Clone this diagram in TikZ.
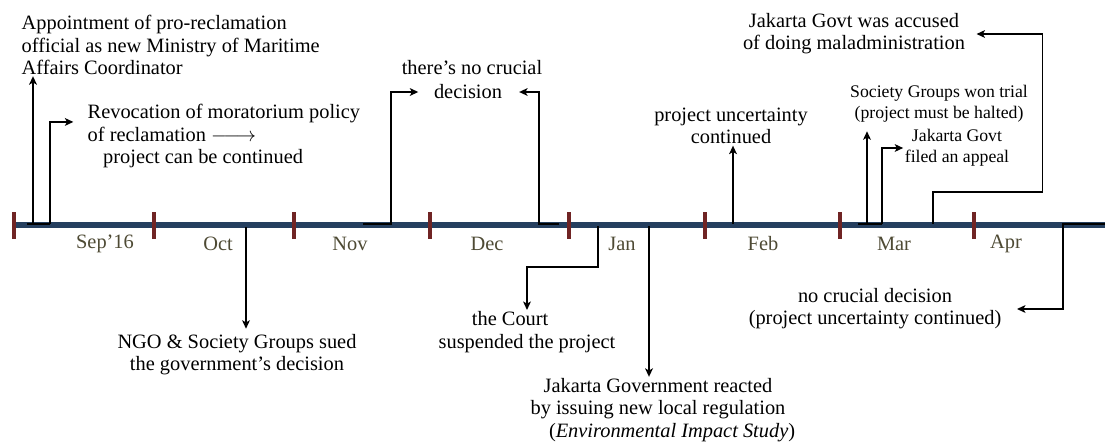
\documentclass[tikz,border=0pt]{standalone}
\usepackage{fontspec}
\setmainfont{Liberation Serif}
\usepackage{tikz}
\usetikzlibrary{
    arrows.meta,
    calc,
    positioning
}
\definecolor{ink}{RGB}{0,0,0}
\definecolor{axis}{RGB}{37,63,95}
\definecolor{tickred}{RGB}{112,36,36}
\definecolor{monthtext}{RGB}{78,74,52}
\tikzset{
    event/.style={
        font=\fontsize{14.5}{15.8}\selectfont,
        align=center,
        inner sep=1pt,
        text=ink
    },
    eventsmall/.style={
        event,
        font=\fontsize{12.6}{15}\selectfont
    },
    monthlabel/.style={
        font=\fontsize{14.5}{16}\selectfont,
        text=monthtext
    },
    timeline/.style={
        draw=axis,
        line width=3.6pt
    },
    monthtick/.style={
        draw=tickred,
        line width=3pt
    },
    evline/.style={
        draw=ink,
        line width=1.1pt,
        line join=miter
    },
    evarrow/.style={
        evline,
        -{Stealth[length=6pt,width=5.5pt,inset=1.5pt]}
    }
}

\begin{document}
\begin{tikzpicture}[x=0.025cm, y=-0.025cm]

\useasboundingbox (0,0) rectangle (1105,443);

% --- Timeline ---
\coordinate (start) at (14,225);
\coordinate (finish) at (1105,225);
\draw[timeline] (start) -- (finish);

\foreach \x in {14,154,294,430,569,705,840,974}
    \draw[monthtick] (\x,212) -- (\x,239);

% Month labels
\node[monthlabel] (sep) at (105,244) {Sep'16};
\node[monthlabel] (oct) at (218,244) {Oct};
\node[monthlabel] (nov) at (350,244) {Nov};
\node[monthlabel] (dec) at (487,244) {Dec};
\node[monthlabel] (jan) at (622,244) {Jan};
\node[monthlabel] (feb) at (763,244) {Feb};
\node[monthlabel] (mar) at (894,244) {Mar};
\node[monthlabel] (apr) at (1006,244) {Apr};

% --- September ---
\coordinate (s0) at (27,224);
\coordinate (s1) at (33,224);
\coordinate (s2) at (50,224);

\node[event, align=left, anchor=west] (appoint) at (20,45)
    {Appointment of pro-reclamation\\official as new Ministry of Maritime\\Affairs Coordinator};
\node[event, align=left, anchor=west] (revoc) at (86,136)
    {Revocation of moratorium policy\\of reclamation $\relbar\joinrel\longrightarrow$\\\hspace*{11pt}project can be continued};

\draw[evline] (s0) -- (s2);
\draw[evarrow] (s1) -- (s1 |- appoint.south);
\draw[evarrow, shorten >=9pt] (s2) |- ([yshift=10pt]revoc.west);

% --- October ---
\coordinate (o1) at (246,227);
\node[event] (ngo) at (237,355) {NGO \& Society Groups sued\\the government's decision};
\draw[evarrow, shorten >=3pt] (o1) -- (o1 |- ngo.north);

% --- November / December ---
\coordinate (n0) at (363,224);
\coordinate (n1) at (391,224);
\coordinate (d0) at (559,224);
\coordinate (d1) at (539,224);

\node[event] (nocrucial) at (472,68) {there's no crucial};
\node[event] (decision) at (468,92) {decision};

\draw[evarrow, shorten >=10pt] (n0) -- (n1) |- (decision.west);
\draw[evarrow, shorten >=11pt] (d0) -- (d1) |- (decision.east);

% --- January ---
\coordinate (j0) at (598,226);
\coordinate (j1) at (649,226);

\node[event] (court) at (527,332) {the Court\hspace*{24pt}\\suspended the project};
\node[event] (regulation) at (658,410)
    {Jakarta Government reacted\\by issuing new local regulation\\\hspace*{20pt}(\textit{Environmental Impact Study})};

\draw[evarrow] (j0) -- ++(0,41) -| (court.north);
\draw[evarrow] (j1) -- (j1 |- regulation.north);

% --- February ---
\coordinate (f0) at (733,224);
\node[event] (uncertain) at (731,126) {project uncertainty\\continued};
\draw[evarrow] (f0) -- (f0 |- uncertain.south);

% --- March ---
\coordinate (m0) at (858,224);
\coordinate (m1) at (867,224);
\coordinate (m2) at (882,224);
\coordinate (a0) at (933,224);

\node[eventsmall] (wontrial) at (939,104) {Society Groups won trial\\(project must be halted)};
\node[eventsmall] (appeal) at (957,148) {Jakarta Govt\\filed an appeal};
\node[event] (accused) at (854,34) {Jakarta Govt was accused\\of doing maladministration};

\draw[evline] (m0) -- (m2);
\draw[evarrow, shorten >=5pt] (m1) -- (m1 |- wontrial.south);
\draw[evarrow] (m2) |- (appeal.west);
\draw[evarrow, shorten >=7pt] (a0) -- ++(0,-32) -| ([xshift=54pt]accused.east) -- (accused.east);

% --- April ---
\coordinate (p0) at (1105,224);
\coordinate (p1) at (1063,224);
\node[event] (nodecision) at (875,309) {no crucial decision\\(project uncertainty continued)};
\draw[evarrow, shorten >=10pt] (p0) -- (p1) |- (nodecision.east);

\end{tikzpicture}
\end{document}
